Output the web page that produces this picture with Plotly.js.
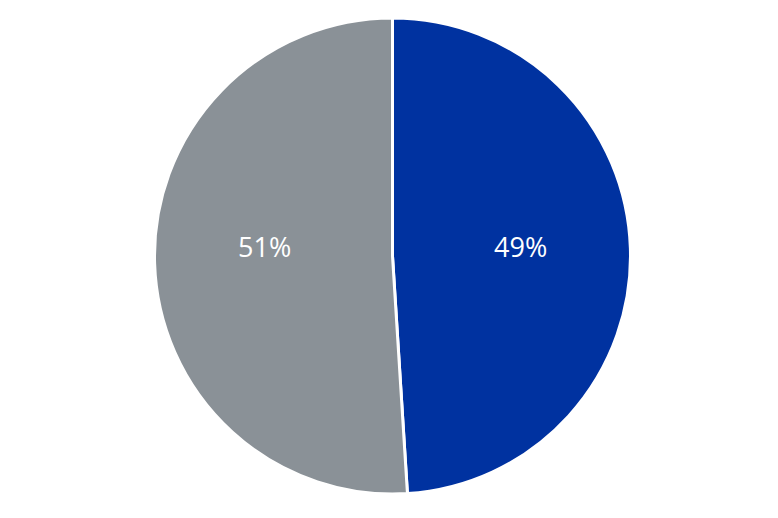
<!DOCTYPE html>
<html>
<head>
<meta charset="utf-8">
<script src="https://cdn.plot.ly/plotly-3.0.1.min.js"></script>
<style>html,body{margin:0;padding:0;background:#fff;}#chart{width:778px;height:518px;}</style>
</head>
<body>
<div id="chart"></div>
<script>
const labels = ["A", "B"];
const values = [49, 51];
const colors = ["#0032A0", "#8A9197"];

const W = 778, H = 518;
const cx = 392.5, cy = 256, r = 238;

// label annotations placed at each slice's mid-angle (clockwise from 12 o'clock)
const total = values.reduce((a, b) => a + b, 0);
let acc = 0;
const annotations = values.map((v, i) => {
  const mid = (acc + v / 2) / total * 2 * Math.PI;
  acc += v;
  const px = cx + 0.54 * r * Math.sin(mid);
  const py = cy - 9.5;
  return {
    xref: "paper", yref: "paper",
    x: px / W, y: 1 - py / H,
    xanchor: "center", yanchor: "middle",
    showarrow: false,
    text: Math.round(v / total * 100) + "%",
    font: {family: "Open Sans, Noto Sans, sans-serif", size: 27, color: "#ffffff"}
  };
});

Plotly.newPlot("chart", [{
  type: "pie",
  labels: labels,
  values: values,
  sort: false,
  direction: "clockwise",
  rotation: 0,
  marker: {colors: colors, line: {color: "#ffffff", width: 3}},
  textinfo: "none",
  hoverinfo: "none",
  domain: {x: [(cx - r) / W, (cx + r) / W], y: [(H - cy - r) / H, (H - cy + r) / H]}
}], {
  width: W, height: H,
  margin: {l: 0, r: 0, t: 0, b: 0},
  showlegend: false,
  paper_bgcolor: "#ffffff",
  annotations: annotations
}, {displayModeBar: false, staticPlot: true});
</script>
</body>
</html>
